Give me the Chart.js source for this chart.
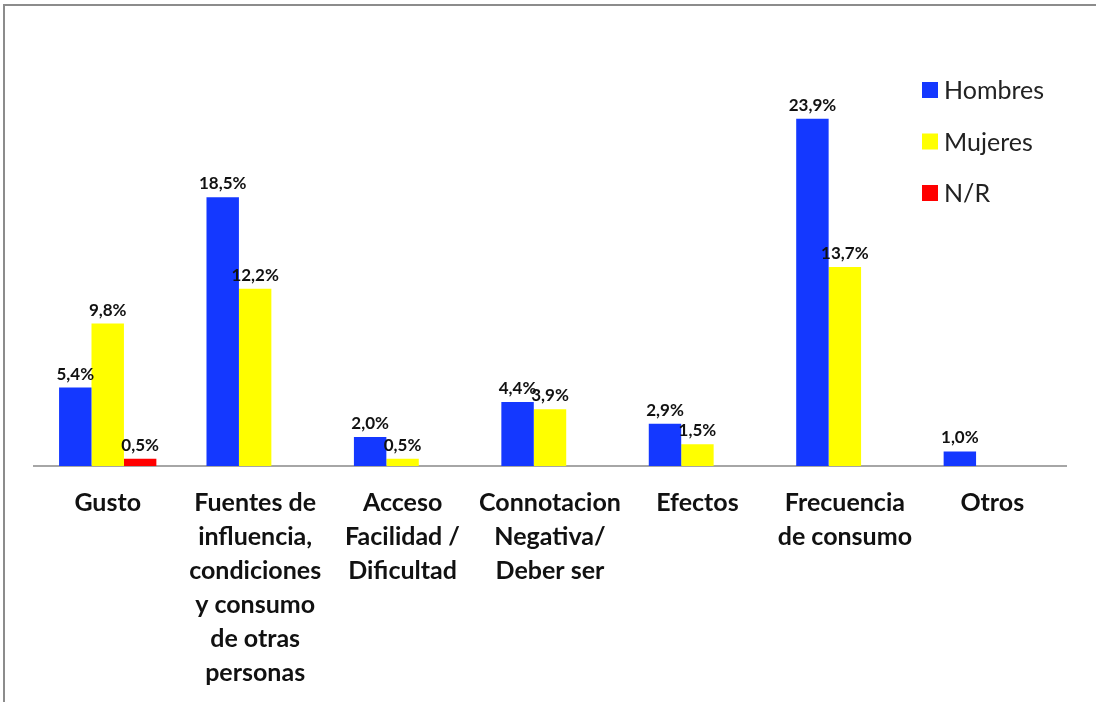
<!DOCTYPE html>
<html>
<head>
<meta charset="utf-8">
<script src="https://cdn.jsdelivr.net/npm/chart.js@4/dist/chart.umd.min.js"></script>
<style>
  html, body { margin: 0; padding: 0; background: #fff; }
  #wrap { position: relative; width: 1096px; height: 702px; overflow: hidden; }
  #frame {
    position: absolute; left: 3px; top: 4px; right: -10px; bottom: -10px;
    border-top: 2px solid #8c8c8c; border-left: 2px solid #8c8c8c;
    pointer-events: none;
  }
  canvas { position: absolute; left: 0; top: 0; }
</style>
</head>
<body>
<div id="wrap">
  <div id="frame"></div>
  <canvas id="chart" width="1096" height="702"></canvas>
</div>
<script>
const categories = [
    ['Gusto'],
    ['Fuentes de', 'influencia,', 'condiciones', 'y consumo', 'de otras', 'personas'],
    ['Acceso', 'Facilidad /', 'Dificultad'],
    ['Connotacion', 'Negativa/', 'Deber ser'],
    ['Efectos'],
    ['Frecuencia', 'de consumo'],
    ['Otros']
];
const hombres = [5.4, 18.5, 2.0, 4.4, 2.9, 23.9, 1.0];
const mujeres = [9.8, 12.2, 0.5, 3.9, 1.5, 13.7, null];
const noResponde = [0.5, null, null, null, null, null, null];

const seriesNames = ['Hombres', 'Mujeres', 'N/R'];
const seriesColors = ['#1438ff', '#ffff00', '#ff0000'];

const FONT = 'Lato, "Open Sans", sans-serif';

// value labels above each bar, written with a decimal comma
const barLabels = {
    id: 'barLabels',
    afterDatasetsDraw(chart) {
        const ctx = chart.ctx;
        ctx.save();
        ctx.font = 'bold 17px ' + FONT;
        ctx.fillStyle = '#111';
        ctx.textAlign = 'center';
        ctx.textBaseline = 'bottom';
        chart.data.datasets.forEach((ds, i) => {
            const meta = chart.getDatasetMeta(i);
            meta.data.forEach((bar, j) => {
                const v = ds.data[j];
                if (v === null || v === undefined) return;
                ctx.fillText(v.toFixed(1).replace('.', ',') + '%', bar.x, bar.y - 5);
            });
        });
        ctx.restore();
    }
};

// legend in the upper right corner of the plot
const cornerLegend = {
    id: 'cornerLegend',
    afterDraw(chart) {
        const ctx = chart.ctx;
        ctx.save();
        ctx.font = '25px ' + FONT;
        ctx.textBaseline = 'middle';
        chart.data.datasets.forEach((ds, i) => {
            const y = 90 + i * 51.5;
            ctx.fillStyle = ds.backgroundColor;
            ctx.fillRect(922, y - 8, 16, 16);
            ctx.fillStyle = '#222';
            ctx.fillText(ds.label, 944, y + 1);
        });
        ctx.restore();
    }
};

const ctx = document.getElementById('chart').getContext('2d');
const chart = new Chart(ctx, {
    type: 'bar',
    data: {
        labels: categories,
        datasets: [hombres, mujeres, noResponde].map((d, i) => ({
            label: seriesNames[i],
            data: d,
            backgroundColor: seriesColors[i],
            borderWidth: 0,
            categoryPercentage: 0.66,
            barPercentage: 1.0
        }))
    },
    options: {
        responsive: false,
        animation: false,
        layout: { padding: { left: 34, right: 30, top: 30, bottom: 0 } },
        plugins: {
            legend: { display: false },
            tooltip: { enabled: false }
        },
        scales: {
            x: {
                grid: { display: false, drawTicks: false },
                border: { display: true, color: '#a6a6a6', width: 2 },
                ticks: {
                    color: '#111',
                    padding: 20,
                    maxRotation: 0,
                    autoSkip: false,
                    font: { family: FONT, size: 25, weight: 'bold', lineHeight: '34px' }
                },
                afterFit(scale) { scale.height = 236; }
            },
            y: {
                display: false,
                min: 0,
                max: 30
            }
        }
    },
    plugins: [barLabels, cornerLegend]
});
</script>
</body>
</html>
